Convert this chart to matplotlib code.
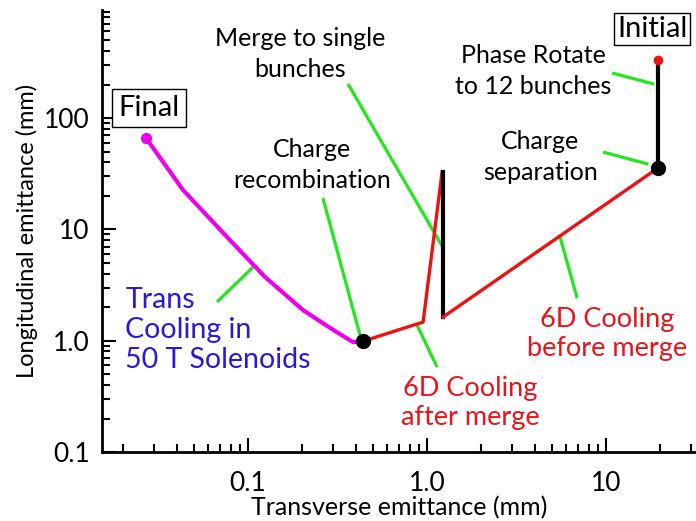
import matplotlib
matplotlib.use("Agg")
import matplotlib.pyplot as plt
from matplotlib.ticker import FixedLocator, FixedFormatter, LogLocator, NullFormatter

plt.rcParams["font.family"] = ["Lato", "DejaVu Sans"]

# Data (mm)
trans_cool_x = [0.0269, 0.0433, 0.0763, 0.1245, 0.203, 0.299, 0.386, 0.439]
trans_cool_y = [66.1, 22.6, 8.53, 3.73, 1.88, 1.25, 0.97, 0.99]

after_merge_x = [0.439, 0.95, 1.213]
after_merge_y = [0.99, 1.47, 32.7]

merge_x = [1.228, 1.228]
merge_y = [32.7, 1.63]

before_merge_x = [1.228, 19.5]
before_merge_y = [1.63, 35.6]

phase_rot_x = [19.5, 19.5]
phase_rot_y = [35.6, 332]

initial_pt = (19.5, 332)
final_pt = (0.0269, 66.1)
recomb_pt = (0.439, 0.99)
separation_pt = (19.5, 35.6)

# leader lines: (x0, x1), (y0, y1)
leaders = [
    ((0.0671, 0.1067), (2.23, 4.59)),
    ((0.262, 0.422), (19.1, 1.12)),
    ((0.362, 1.213), (202, 7.08)),
    ((0.879, 1.137), (1.38, 0.58)),
    ((5.53, 6.89), (8.54, 2.42)),
    ((9.62, 17.2), (49.5, 38.6)),
    ((10.8, 18.5), (254, 202)),
]

black_labels = [
    ("Merge to single\nbunches", 0.195, 376),
    ("Charge\nrecombination", 0.228, 37.8),
    ("Phase Rotate\nto 12 bunches", 3.91, 264),
    ("Charge\nseparation", 4.28, 44.6),
]
red_labels = [
    ("6D Cooling\nafter merge", 1.74, 0.275),
    ("6D Cooling\nbefore merge", 10.1, 1.15),
]

y_ticks = [0.1, 1.0, 10, 100]
y_ticklabels = ["0.1", "1.0", "10", "100"]
x_ticks = [0.1, 1.0, 10]
x_ticklabels = ["0.1", "1.0", "10"]

fig = plt.figure(figsize=(6.96, 5.21), dpi=100)
ax = fig.add_axes([0.1466, 0.1324, 0.8534, 0.848])
ax.set_xscale("log")
ax.set_yscale("log")
ax.set_xlim(0.01528, 31.8)
ax.set_ylim(0.1, 930)

for (lx, ly) in leaders:
    ax.plot(lx, ly, color="#22e61e", lw=2.3, solid_capstyle="butt", zorder=2)

ax.plot(trans_cool_x, trans_cool_y, color="#ee00ee", lw=3.0, zorder=3)
ax.plot(after_merge_x, after_merge_y, color="#ee1111", lw=2.4, zorder=3)
ax.plot(merge_x, merge_y, color="black", lw=3.0, zorder=3)
ax.plot(before_merge_x, before_merge_y, color="#ee1111", lw=2.4, zorder=3)
ax.plot(phase_rot_x, phase_rot_y, color="black", lw=3.0, zorder=3)

ax.plot(*final_pt, "o", color="#ee00ee", ms=7, zorder=4)
ax.plot(*initial_pt, "o", color="#ee1111", ms=6, zorder=4)
ax.plot(*recomb_pt, "o", color="black", ms=10, zorder=4)
ax.plot(*separation_pt, "o", color="black", ms=10, zorder=4)

for text, tx, ty in black_labels:
    ax.text(tx, ty, text, ha="center", va="center", color="black", fontsize=18,
            linespacing=1.38, zorder=5)

for text, tx, ty in red_labels:
    ax.text(tx, ty, text, ha="center", va="center", color="#e8141c", fontsize=19.5,
            linespacing=1.17, zorder=5)

ax.text(0.0206, 1.25, "Trans\nCooling in\n50 T Solenoids", ha="left", va="center",
        color="#2818d8", fontsize=20.5, linespacing=1.2, zorder=5)

ax.text(0.028, 123, "Final", ha="center", va="center", fontsize=21, zorder=5,
        bbox=dict(boxstyle="square,pad=0.22", fc="white", ec="black", lw=1.0))
ax.text(18.1, 630, "Initial", ha="center", va="center", fontsize=21, zorder=5,
        bbox=dict(boxstyle="square,pad=0.1", fc="white", ec="black", lw=1.0))

ax.spines["top"].set_visible(False)
ax.spines["right"].set_visible(False)
ax.spines["left"].set_linewidth(2.0)
ax.spines["bottom"].set_linewidth(2.0)

ax.xaxis.set_major_locator(FixedLocator(x_ticks))
ax.xaxis.set_major_formatter(FixedFormatter(x_ticklabels))
ax.yaxis.set_major_locator(FixedLocator(y_ticks))
ax.yaxis.set_major_formatter(FixedFormatter(y_ticklabels))
ax.xaxis.set_minor_locator(LogLocator(base=10, subs=range(2, 10)))
ax.yaxis.set_minor_locator(LogLocator(base=10, subs=range(2, 10)))
ax.xaxis.set_minor_formatter(NullFormatter())
ax.yaxis.set_minor_formatter(NullFormatter())
ax.tick_params(which="both", direction="in", top=False, right=False, width=1.5)
ax.tick_params(which="major", length=10, labelsize=19)
ax.tick_params(axis="y", which="major", pad=9)
ax.tick_params(axis="x", which="major", pad=14)
ax.tick_params(which="minor", length=6)

ax.set_xlabel("Transverse emittance (mm)", fontsize=18, labelpad=0)
ax.set_ylabel("Longitudinal emittance (mm)", fontsize=17, labelpad=4)

fig.savefig("out.png", dpi=100)
